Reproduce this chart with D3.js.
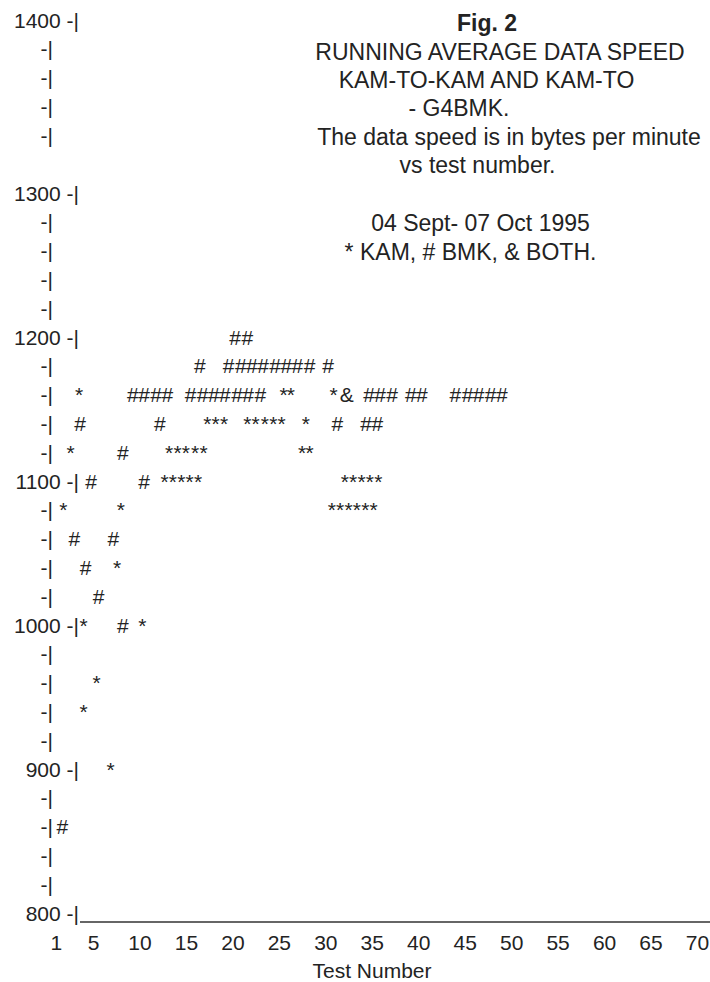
<!DOCTYPE html>
<html>
<head>
<meta charset="utf-8">
<script src="https://cdn.jsdelivr.net/npm/d3@7"></script>
<style>
  html, body { margin: 0; padding: 0; background: #ffffff; }
  svg { display: block; }
  text { font-family: "Liberation Sans", Arial, Helvetica, sans-serif; fill: #232323; }
</style>
</head>
<body>
<svg id="chart" width="710" height="982"></svg>
<script>
// ---------------- data ----------------
const figLabel = "Fig. 2";
const titleLines = [
  "RUNNING AVERAGE DATA SPEED",
  "KAM-TO-KAM AND KAM-TO",
  "- G4BMK.",
  "The data speed is in bytes per minute",
  "vs test number."
];
const dateLine = "04 Sept- 07 Oct 1995";
const legendLine = "* KAM, # BMK, & BOTH.";
const xAxisTitle = "Test Number";

const xTicks = [1, 5, 10, 15, 20, 25, 30, 35, 40, 45, 50, 55, 60, 65, 70];
const yTicks = d3.range(800, 1401, 20);

// series: [test number, bytes per minute]
const kamPoints = [
  [3.5, 1160], [25.5, 1160], [26.3, 1160], [30.9, 1160],
  [17.3, 1140], [18.2, 1140], [19.1, 1140], [21.6, 1140], [22.5, 1140], [23.5, 1140], [24.4, 1140], [25.3, 1140], [27.9, 1140],
  [2.6, 1120], [13.2, 1120], [14.1, 1120], [15.0, 1120], [16.0, 1120], [16.9, 1120], [27.5, 1120], [28.3, 1120],
  [12.7, 1100], [13.6, 1100], [14.5, 1100], [15.4, 1100], [16.3, 1100], [32.1, 1100], [33.0, 1100], [33.9, 1100], [34.8, 1100], [35.7, 1100],
  [1.8, 1080], [8.0, 1080], [30.7, 1080], [31.6, 1080], [32.5, 1080], [33.4, 1080], [34.3, 1080], [35.2, 1080],
  [7.6, 1040],
  [4.0, 1000], [10.3, 1000],
  [5.4, 960],
  [4.0, 940],
  [6.9, 900]
];
const bmkPoints = [
  [20.3, 1200], [21.6, 1200],
  [16.5, 1180], [19.6, 1180], [20.9, 1180], [22.1, 1180], [23.3, 1180], [24.6, 1180], [25.8, 1180], [27.0, 1180], [28.3, 1180], [30.3, 1180],
  [9.3, 1160], [10.5, 1160], [11.8, 1160], [13.0, 1160], [15.5, 1160], [16.8, 1160], [18.0, 1160], [19.2, 1160], [20.5, 1160], [21.7, 1160], [23.0, 1160],
  [34.7, 1160], [35.9, 1160], [37.2, 1160], [39.2, 1160], [40.4, 1160], [44.0, 1160], [45.3, 1160], [46.5, 1160], [47.8, 1160], [49.0, 1160],
  [3.6, 1140], [12.2, 1140], [31.3, 1140], [34.4, 1140], [35.6, 1140],
  [8.2, 1120],
  [4.8, 1100], [10.5, 1100],
  [3.0, 1060], [7.2, 1060],
  [4.2, 1040],
  [5.6, 1020],
  [8.2, 1000],
  [1.7, 860]
];
const bothPoints = [
  [32.3, 1160]
];

// ---------------- drawing ----------------
const svg = d3.select("#chart");
const W = 710, H = 982;
svg.append("rect").attr("width", W).attr("height", H).attr("fill", "#ffffff");

const x = d3.scaleLinear().domain([5, 70]).range([93, 697]);
// the typed original leaves one blank line between the 1320 and 1300 rows
const y = d3.scaleLinear().domain([800, 1300, 1320, 1400]).range([913, 193, 135, 20]);

const fs = 21;

// title block
svg.append("text").attr("x", 487).attr("y", 23).attr("dy", "0.36em")
  .attr("text-anchor", "middle").attr("font-size", 23).attr("font-weight", "bold")
  .text(figLabel);
const titleX = [500, 486.5, 459, 509, 477.5];
const titleY = [52, 80, 108, 137, 165];
svg.selectAll("text.title").data(titleLines).join("text").attr("class", "title")
  .attr("x", (d, i) => titleX[i]).attr("y", (d, i) => titleY[i]).attr("dy", "0.36em")
  .attr("text-anchor", "middle").attr("font-size", 23).text(d => d);
svg.append("text").attr("x", 480.5).attr("y", 223).attr("dy", "0.36em")
  .attr("text-anchor", "middle").attr("font-size", 23).text(dateLine);
svg.append("text").attr("x", 470.5).attr("y", 252).attr("dy", "0.36em")
  .attr("text-anchor", "middle").attr("font-size", 23).text(legendLine);

// y axis, typed style "1400 -|" and "-|"
const yAxis = svg.append("g").attr("class", "y-axis");
yAxis.selectAll("text").data(yTicks).join("text")
  .attr("x", d => d % 100 === 0 ? 79 : 53)
  .attr("y", d => y(d)).attr("dy", "0.36em")
  .attr("text-anchor", "end").attr("font-size", fs)
  .attr("xml:space", "preserve")
  .text(d => d % 100 === 0 ? d + " -|" : "-|");

// x axis: underline + labels
svg.append("line").attr("x1", 80).attr("x2", W).attr("y1", 922).attr("y2", 922)
  .attr("stroke", "#333").attr("stroke-width", 1.6);
const xAxis = svg.append("g").attr("transform", "translate(0,942)")
  .call(d3.axisBottom(x).tickValues(xTicks).tickSize(0).tickPadding(0).tickFormat(d3.format("d")));
xAxis.select(".domain").remove();
xAxis.selectAll("text").attr("font-size", fs).attr("fill", "#232323")
  .attr("font-family", '"Liberation Sans", Arial, Helvetica, sans-serif')
  .attr("y", 0).attr("dy", "0.36em");

svg.append("text").attr("x", 372).attr("y", 970).attr("dy", "0.36em")
  .attr("text-anchor", "middle").attr("font-size", fs).text(xAxisTitle);

// data glyphs
function drawSeries(points, glyph, cls) {
  svg.append("g").attr("class", cls).selectAll("text").data(points).join("text")
    .attr("x", d => x(d[0])).attr("y", d => y(d[1])).attr("dy", "0.36em")
    .attr("text-anchor", "middle").attr("font-size", fs).text(glyph);
}
drawSeries(bmkPoints, "#", "bmk");
drawSeries(kamPoints, "*", "kam");
drawSeries(bothPoints, "&", "both");
</script>
</body>
</html>
